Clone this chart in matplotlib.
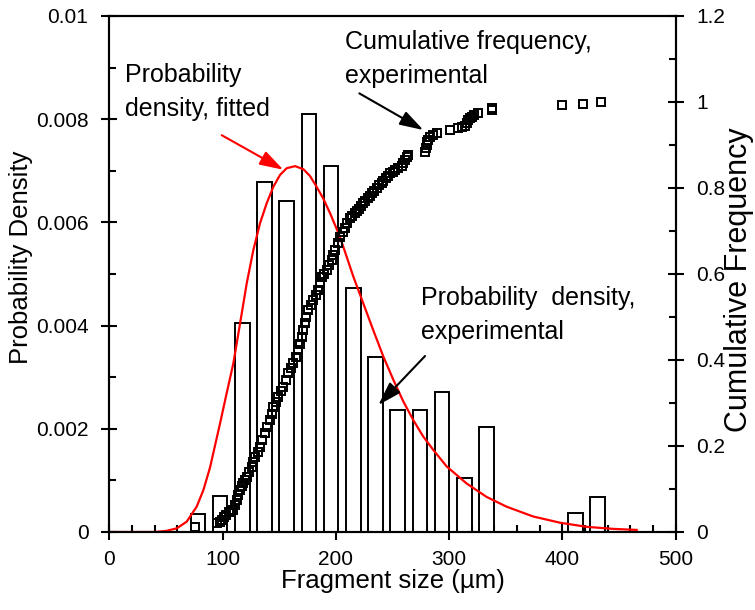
import matplotlib

matplotlib.use("Agg")
import matplotlib.pyplot as plt
from matplotlib.ticker import MultipleLocator

plt.rcParams["font.family"] = ["Liberation Sans", "DejaVu Sans"]

# histogram (probability density, experimental)
bin_centers = [78.2, 97.8, 117.4, 137.0, 156.6, 176.2, 195.8, 215.4, 235.0,
               254.6, 274.2, 293.8, 313.4, 333.0, 411.4, 431.0]
bin_density = [0.00035, 0.00069, 0.00405, 0.00678, 0.00642, 0.0081, 0.0071,
               0.00473, 0.0034, 0.00237, 0.00237, 0.00272, 0.00105, 0.00204,
               0.00036, 0.00068]
bar_width = 12.8

# fitted probability density
fit_x = [0, 40, 50, 59.5, 68.3, 77.1, 83, 88.9, 97.7, 103.6, 109.5, 115.4,
         121.3, 127.1, 133, 138.9, 144.8, 150.7, 156.6, 164, 171.3, 177.1,
         183, 188.9, 194.8, 202.1, 206.5, 215.4, 224.2, 233, 241.9, 250.7,
         259.5, 268.3, 277.1, 286, 297.8, 315.4, 333, 350.7, 374.2, 397.8,
         421.3, 445, 465.5]
fit_pdf = [0, 0, 0.00002, 0.00007, 0.0002, 0.00049, 0.00081, 0.00125, 0.0021,
           0.00269, 0.00327, 0.00404, 0.00482, 0.00546, 0.00598, 0.00637,
           0.00669, 0.00692, 0.00705, 0.00709, 0.00703, 0.0069, 0.00669,
           0.00646, 0.00618, 0.0058, 0.00553, 0.00495, 0.00443, 0.00391,
           0.0034, 0.00295, 0.00253, 0.00217, 0.00185, 0.00159, 0.00127,
           0.00094, 0.00068, 0.00049, 0.0003, 0.00018, 0.0001, 0.00006,
           0.00004]

# cumulative frequency, experimental
cum_x = [75.6, 94.8, 97.5, 99.2, 101, 103, 106, 109.4, 111, 112.4, 114,
         115.3, 117, 118.3, 120, 121.3, 123.5, 125.7, 127, 128.6, 131, 133,
         135, 137.4, 139.5, 141.8, 143.3, 144.8, 147, 149.2, 151.5, 153.6,
         156, 158, 160, 162.4, 164.5, 166.8, 168.3, 169.8, 171.3, 172.7, 174,
         175.6, 178, 180, 182.5, 184.5, 186, 187.5, 189.5, 191.9, 194, 196.3,
         197.7, 199.2, 201.5, 203.6, 206, 208, 210, 212.4, 214.5, 216.9,
         218.5, 220.5, 222.5, 224.2, 226, 228, 230, 231.6, 234, 236, 238,
         240.4, 242, 244, 246, 247.7, 250, 252, 255, 258, 259.5, 261, 262.5,
         263.9, 278.6, 279.3, 280, 280.7, 281.5, 283.5, 286, 289, 300.7, 308,
         311, 314, 315.5, 317, 318.5, 319.9, 322, 325.7, 337.5, 337.5, 400,
         418.3, 433.7]
cum_freq = [0.012, 0.02, 0.024, 0.028, 0.034, 0.04, 0.046, 0.051, 0.062,
            0.074, 0.086, 0.098, 0.106, 0.113, 0.121, 0.129, 0.14, 0.152,
            0.163, 0.175, 0.186, 0.198, 0.214, 0.23, 0.245, 0.26, 0.275,
            0.291, 0.303, 0.315, 0.327, 0.338, 0.353, 0.369, 0.381, 0.392,
            0.408, 0.423, 0.438, 0.454, 0.47, 0.485, 0.5, 0.516, 0.528, 0.54,
            0.552, 0.563, 0.579, 0.594, 0.601, 0.609, 0.621, 0.633, 0.645,
            0.656, 0.671, 0.687, 0.697, 0.706, 0.718, 0.73, 0.736, 0.741,
            0.747, 0.752, 0.758, 0.764, 0.77, 0.776, 0.782, 0.788, 0.794, 0.8,
            0.806, 0.811, 0.817, 0.823, 0.829, 0.834, 0.838, 0.842, 0.846,
            0.85, 0.857, 0.864, 0.871, 0.877, 0.884, 0.892, 0.9, 0.906, 0.912,
            0.918, 0.923, 0.927, 0.935, 0.939, 0.941, 0.943, 0.951, 0.958,
            0.962, 0.966, 0.97, 0.974, 0.981, 0.985, 0.992, 0.996, 1.0]

ARROW = "-|>,head_length=0.8,head_width=0.25"


def style_axis(ax):
    for side in ["left", "right", "top", "bottom"]:
        ax.spines[side].set_linewidth(1.5)
    ax.tick_params(which="major", direction="inout", length=11, width=1.5,
                   labelsize=15, pad=9.5)
    ax.tick_params(which="minor", direction="in", length=5, width=1.5)


fig = plt.figure(figsize=(7.55, 6.10), dpi=100)
ax = fig.add_axes([0.1448, 0.1279, 0.7502, 0.8459])

ax.bar(bin_centers, bin_density, width=bar_width, facecolor="white",
       edgecolor="black", linewidth=1.4, zorder=2)
ax.plot(fit_x, fit_pdf, color="red", linewidth=1.6, zorder=3)

ax.set_xlim(0, 500)
ax.set_ylim(0, 0.01)
ax.xaxis.set_major_locator(MultipleLocator(100))
ax.xaxis.set_minor_locator(MultipleLocator(20))
ax.yaxis.set_minor_locator(MultipleLocator(0.001))
ax.set_yticks([0, 0.002, 0.004, 0.006, 0.008, 0.01])
ax.set_yticklabels(["0", "0.002", "0.004", "0.006", "0.008", "0.01"])
style_axis(ax)
ax.tick_params(axis="x", which="major", pad=7.5)
ax.tick_params(top=False, which="both")
ax.set_xlabel("Fragment size (\u00b5m)", fontsize=18.5)
ax.set_ylabel("Probability Density", fontsize=18.5)
ax.xaxis.set_label_coords(0.5, -0.072)
ax.yaxis.set_label_coords(-0.135, 0.533)

ax2 = ax.twinx()
ax2.plot(cum_x, cum_freq, linestyle="none", marker="s", markersize=5.5,
         markerfacecolor="none", markeredgecolor="black",
         markeredgewidth=1.4, zorder=4)
ax2.set_ylim(0, 1.2)
ax2.yaxis.set_minor_locator(MultipleLocator(0.1))
ax2.set_yticks([0, 0.2, 0.4, 0.6, 0.8, 1.0, 1.2])
ax2.set_yticklabels(["0", "0.2", "0.4", "0.6", "0.8", "1", "1.2"])
style_axis(ax2)
ax2.set_ylabel("Cumulative Frequency", fontsize=22)
ax2.yaxis.set_label_coords(1.086, 0.488)

ax.text(14.1, 0.00909, "Probability\ndensity, fitted", fontsize=18,
        ha="left", va="top", linespacing=1.55)
ax.annotate("", xy=(153.6, 0.00702), xytext=(99.2, 0.00769),
            arrowprops=dict(arrowstyle=ARROW, mutation_scale=18, color="red",
                            lw=1.5, shrinkA=0, shrinkB=0))
ax.text(208.3, 0.00973, "Cumulative frequency,\nexperimental", fontsize=18,
        ha="left", va="top", linespacing=1.55)
ax.annotate("", xy=(277.2, 0.00779), xytext=(220.7, 0.0085),
            arrowprops=dict(arrowstyle=ARROW, mutation_scale=18,
                            color="black", lw=1.5, shrinkA=0, shrinkB=0))
ax.text(274.9, 0.00477, "Probability  density,\nexperimental", fontsize=18,
        ha="left", va="top", linespacing=1.55)
ax.annotate("", xy=(237.5, 0.00246), xytext=(278.7, 0.00341),
            arrowprops=dict(arrowstyle=ARROW, mutation_scale=18,
                            color="black", lw=1.5, shrinkA=0, shrinkB=0))

fig.savefig("out.png", dpi=100)
